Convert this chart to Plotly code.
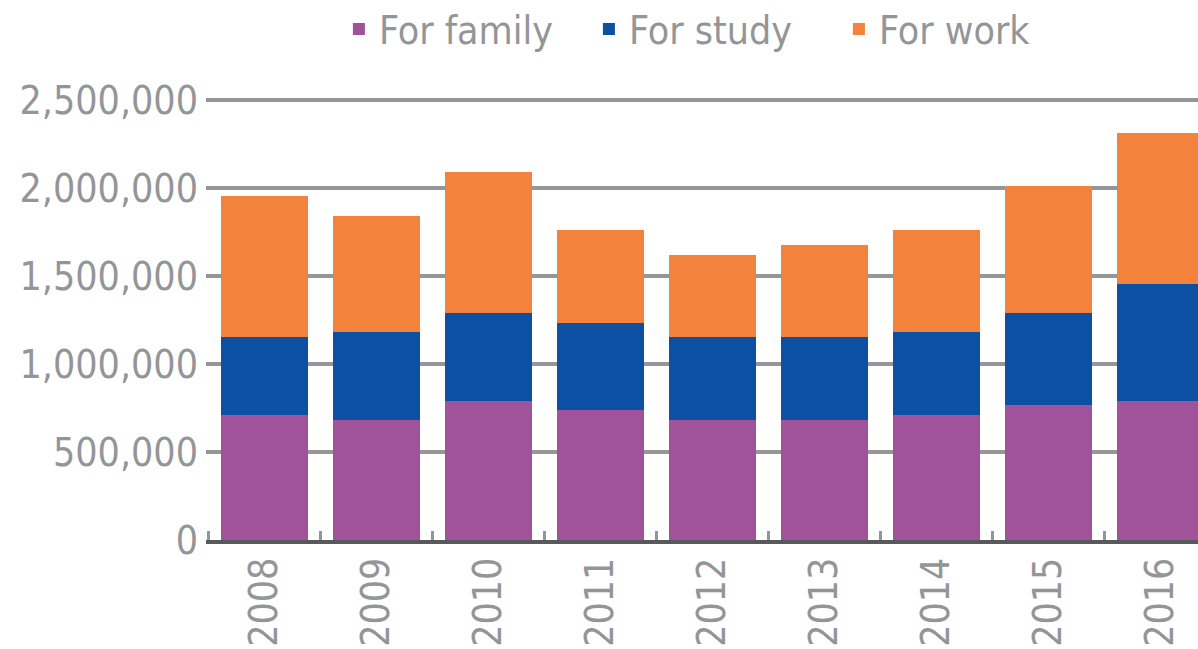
import plotly.graph_objects as go

years = ["2008", "2009", "2010", "2011", "2012", "2013", "2014", "2015", "2016"]
for_family = [710000, 682000, 790000, 739000, 682000, 682000, 710000, 767000, 790000]
for_study = [443000, 500000, 500000, 494000, 471000, 471000, 472000, 523000, 665000]
for_work = [802000, 659000, 801000, 528000, 466000, 523000, 579000, 721000, 857000]

y_ticks = [0, 500000, 1000000, 1500000, 2000000, 2500000]

FONT = "DejaVu Sans Condensed, Liberation Sans Narrow, sans-serif"
GREY = "#939598"

fig = go.Figure()
fig.add_trace(go.Bar(name="For family", x=years, y=for_family, marker_color="#a0529a", marker_line_width=0))
fig.add_trace(go.Bar(name="For study", x=years, y=for_study, marker_color="#0d4fa2", marker_line_width=0))
fig.add_trace(go.Bar(name="For work", x=years, y=for_work, marker_color="#f3823c", marker_line_width=0))

fig.update_layout(
    width=1198, height=649,
    barmode="stack", bargap=0.223,
    margin=dict(l=206, r=0, t=98, b=109),
    paper_bgcolor="white", plot_bgcolor="white",
    font=dict(family=FONT, color=GREY, size=39),
    legend=dict(orientation="h", x=0.512, xanchor="center",
                yref="container", y=0.955, yanchor="middle",
                traceorder="normal", entrywidth=205,
                font=dict(size=39, color=GREY, family=FONT), itemclick=False),
    xaxis=dict(type="category", range=[-0.522, 8.335], showline=True, linecolor="#58595b", linewidth=4,
               ticks="inside", tickson="boundaries", ticklen=9, tickcolor=GREY, tickwidth=3,
               tickangle=-90, tickfont=dict(size=39, color=GREY, family=FONT),
               showgrid=False, ticklabelstandoff=-2, automargin=False),
    yaxis=dict(range=[0, 2512000], tickvals=y_ticks, tickformat=",d", showgrid=True,
               gridcolor=GREY, gridwidth=4, zeroline=False, showline=False,
               tickfont=dict(size=39, color=GREY, family=FONT), ticklabelstandoff=7,
               automargin=False),
)

fig.write_html("out.html", config={"displayModeBar": False},
               post_script="document.body.style.margin='0';document.body.style.overflow='hidden';")
